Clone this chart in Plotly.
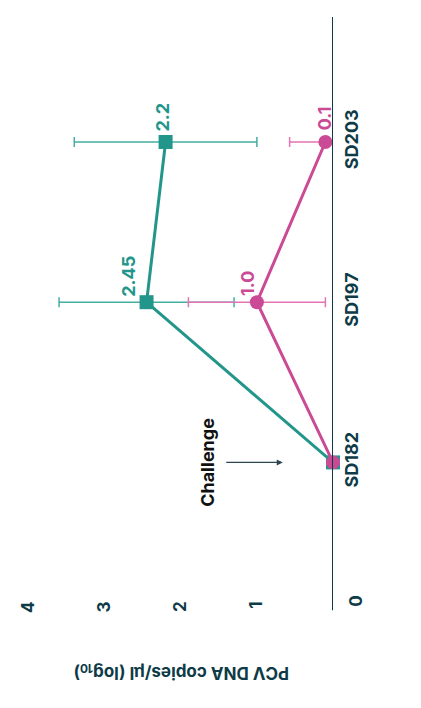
import plotly.graph_objects as go

# data ---------------
days = ["SD182", "SD197", "SD203"]
teal_vals = [0, 2.45, 2.2]
teal_err = [0, 1.15, 1.2]
pink_vals = [0, 1.0, 0.1]
pink_err_up = [0, 0.9, 0.47]
pink_err_down = [0, 0.9, 0.1]
teal_labels = ["", "2.45", "2.2"]
pink_labels = ["", "1.0", "0.1"]
value_ticks = [1, 2, 3, 4]

TEAL = "#23968B"
TEAL_LIGHT = "#45AEA3"
PINK = "#CB4A95"
PINK_LIGHT = "#E274B4"
DARK = "#0E3B47"
FONT = "Inter"

fig = go.Figure()

fig.add_trace(go.Scatter(
    x=teal_vals, y=days, mode="lines+markers",
    line=dict(color=TEAL, width=3),
    marker=dict(symbol="square", size=14, color=TEAL),
    error_x=dict(type="data", array=teal_err, color=TEAL_LIGHT, thickness=1.5, width=5),
    cliponaxis=False, showlegend=False,
))
fig.add_trace(go.Scatter(
    x=pink_vals, y=days, mode="lines+markers",
    line=dict(color=PINK, width=3),
    marker=dict(symbol="circle", size=14, color=PINK),
    error_x=dict(type="data", array=pink_err_up, arrayminus=pink_err_down,
                 color=PINK_LIGHT, thickness=1.5, width=5),
    cliponaxis=False, showlegend=False,
))

# value labels (rotated like the rest of the chart)
teal_shift = [(0, 0), (-18, 26), (-3, 25)]
pink_shift = [(0, 0), (-10, 19), (0, 24)]
for vals, labels, shifts, col in [(teal_vals, teal_labels, teal_shift, TEAL),
                                  (pink_vals, pink_labels, pink_shift, PINK)]:
    for v, d, lab, (dx, dy) in zip(vals, days, labels, shifts):
        if lab:
            fig.add_annotation(x=v, y=d, text="<b>" + lab + "</b>", showarrow=False,
                               textangle=-90, xshift=dx, yshift=dy,
                               font=dict(family=FONT, size=18, color=col))

# challenge marker
fig.add_annotation(x=1.65, y=days[0], text="<b>Challenge</b>", showarrow=False,
                   textangle=-90, font=dict(family=FONT, size=18, color="#111111"))
fig.add_annotation(x=0.66, y=days[0], text="", showarrow=True, ax=-58, ay=0,
                   arrowhead=2, arrowsize=1, arrowwidth=1.2, arrowcolor="#2B4650")

# zero tick label sits right of the axis line
fig.add_annotation(x=0, y=-0.021, xref="x", yref="paper", text="<b>0</b>", showarrow=False,
                   textangle=-90, xshift=23, font=dict(family=FONT, size=17, color=DARK))

# axis title, upside down
fig.add_annotation(x=0.513, y=-0.153, xref="paper", yref="paper",
                   text="<b>PCV DNA copies/µl (log<sub>10</sub>)</b>", showarrow=False,
                   textangle=180, font=dict(family=FONT, size=17, color=DARK))

# category axis line, running a bit past the plot bottom
fig.add_shape(type="line", xref="x", yref="paper", x0=0, x1=0, y0=-0.023, y1=1,
              line=dict(color=DARK, width=2))

# page body has an 8px margin, so the figure is drawn 8px smaller
fig.update_layout(
    width=413, height=700,
    margin=dict(l=13, r=88, t=9, b=111),
    plot_bgcolor="white", paper_bgcolor="white",
    font=dict(family=FONT, color=DARK),
)
fig.update_xaxes(range=[4.1, 0], tickvals=value_ticks,
                 ticktext=["<b>%d</b>" % t for t in value_ticks],
                 tickangle=-90, tickfont=dict(family=FONT, size=17, color=DARK),
                 showgrid=False, zeroline=False, showline=False, ticks="",
                 automargin=False, ticklabelstandoff=0)
fig.update_yaxes(type="category", range=[-0.84, 2.78], side="right",
                 tickangle=-90, ticktext=["<b>" + d + "</b>" for d in days], tickvals=days,
                 tickfont=dict(family=FONT, size=18, color=DARK),
                 showgrid=False, zeroline=False, showline=False, ticks="",
                 automargin=False, ticklabelstandoff=6)

fig.write_html("out.html")
